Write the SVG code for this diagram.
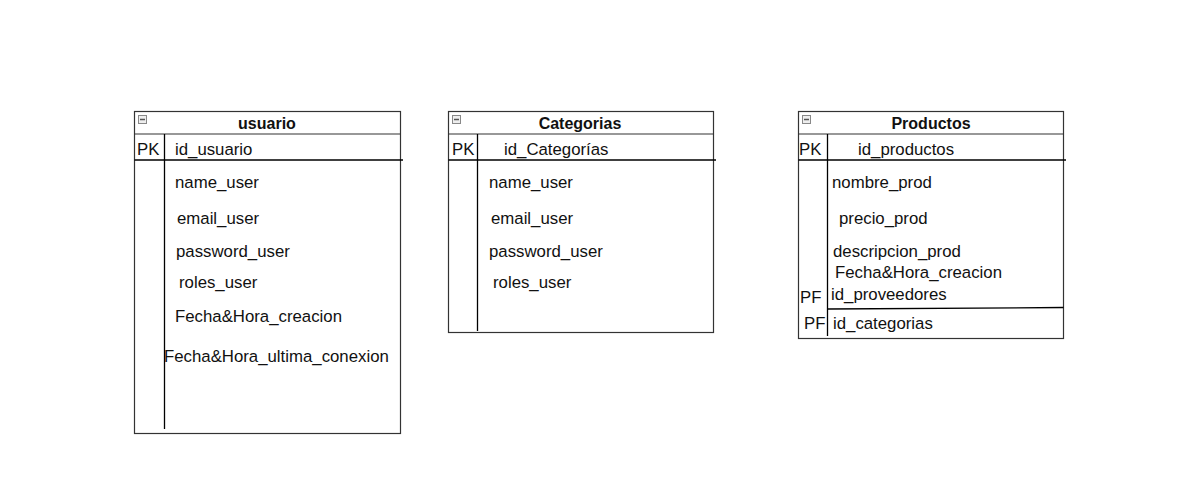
<svg xmlns="http://www.w3.org/2000/svg" width="1180" height="496" viewBox="0 0 1180 496">
<style>
.box{fill:#fff;stroke:#333;stroke-width:1.2}
.ln{stroke:#000;stroke-width:1.3;fill:none}
.sep{stroke:#333;stroke-width:1.2;fill:none}
text{font-family:"Liberation Sans",Arial,sans-serif;font-size:16.8px;fill:#111}
.t{font-weight:bold;font-size:16px;text-anchor:middle}
.ic{fill:#eee;stroke:#888;stroke-width:1}
.icm{stroke:#555;stroke-width:1.5}
</style>
<defs>
<g id="minus"><rect class="ic" x="0.5" y="0.5" width="8" height="8"/><line class="icm" x1="2" y1="4.5" x2="7" y2="4.5"/></g>
</defs>
<rect width="1180" height="496" fill="#fff"/>
<g id="usuario">
<rect class="box" x="134.5" y="111.5" width="266" height="322"/>
<line class="sep" x1="134.5" y1="134" x2="400.5" y2="134"/>
<line class="ln" x1="134.5" y1="160" x2="403" y2="160"/>
<line class="ln" x1="164.5" y1="134" x2="164.5" y2="429"/>
<use href="#minus" x="138" y="115"/>
<text class="t" x="267" y="129">usuario</text>
<text x="137" y="155">PK</text>
<text x="175" y="155">id_usuario</text>
<text x="175" y="188">name_user</text>
<text x="177" y="224">email_user</text>
<text x="176" y="257">password_user</text>
<text x="179" y="288">roles_user</text>
<text x="175" y="322">Fecha&amp;Hora_creacion</text>
<text x="164" y="362">Fecha&amp;Hora_ultima_conexion</text>
</g>
<g id="categorias">
<rect class="box" x="448.5" y="111.5" width="265" height="221"/>
<line class="sep" x1="448.5" y1="134" x2="713.5" y2="134"/>
<line class="ln" x1="448.5" y1="160" x2="716" y2="160"/>
<line class="ln" x1="477.5" y1="134" x2="477.5" y2="331"/>
<use href="#minus" x="452" y="115"/>
<text class="t" x="580" y="129">Categorias</text>
<text x="452" y="155">PK</text>
<text x="504" y="155">id_Categorías</text>
<text x="489" y="188">name_user</text>
<text x="491" y="224">email_user</text>
<text x="489" y="257">password_user</text>
<text x="493" y="288">roles_user</text>
</g>
<g id="productos">
<rect class="box" x="798.5" y="111.5" width="265" height="227"/>
<line class="sep" x1="798.5" y1="134" x2="1063.5" y2="134"/>
<line class="ln" x1="798.5" y1="160" x2="1066" y2="160"/>
<line class="ln" x1="827.5" y1="134" x2="827.5" y2="336"/>
<line class="ln" x1="828" y1="309" x2="1063.5" y2="307.5"/>
<use href="#minus" x="802" y="115"/>
<text class="t" x="931" y="129">Productos</text>
<text x="799" y="155">PK</text>
<text x="858" y="155">id_productos</text>
<text x="832" y="188">nombre_prod</text>
<text x="839" y="224">precio_prod</text>
<text x="833" y="257">descripcion_prod</text>
<text x="835" y="278">Fecha&amp;Hora_creacion</text>
<text x="800" y="303">PF</text>
<text x="831" y="300">id_proveedores</text>
<text x="804" y="329">PF</text>
<text x="833" y="329">id_categorias</text>
</g>
<g id="connectors"></g>
</svg>
